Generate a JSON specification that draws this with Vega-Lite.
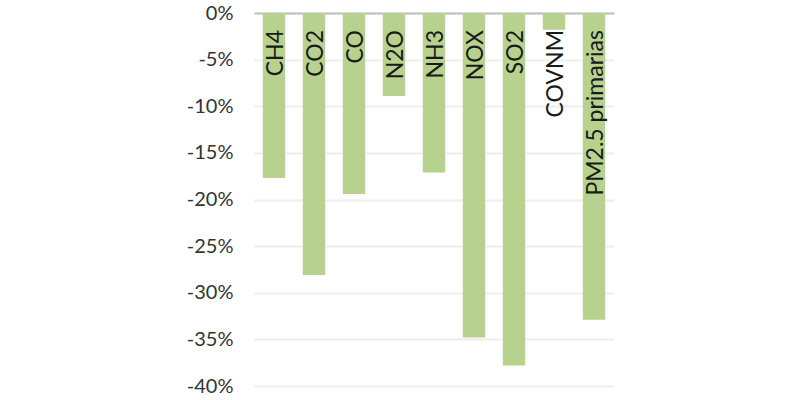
{
  "$schema": "https://vega.github.io/schema/vega-lite/v6.json",
  "autosize": "none",
  "width": 360,
  "height": 373,
  "padding": {"left": 254, "top": 13, "right": 186, "bottom": 14},
  "background": "white",
  "config": {"view": {"stroke": null}, "font": "Lato"},
  "data": {"values": [
    {"gas": "CH4", "v": -0.177},
    {"gas": "CO2", "v": -0.281},
    {"gas": "CO", "v": -0.194},
    {"gas": "N2O", "v": -0.089},
    {"gas": "NH3", "v": -0.171},
    {"gas": "NOX", "v": -0.348},
    {"gas": "SO2", "v": -0.378},
    {"gas": "COVNM", "v": -0.018},
    {"gas": "PM2.5 primarias", "v": -0.329}
  ]},
  "encoding": {
    "x": {"field": "gas", "type": "nominal", "sort": null,
      "scale": {"paddingInner": 0.44, "paddingOuter": 0.22},
      "axis": {"orient": "top", "title": null, "labels": false, "ticks": false, "domainColor": "#bfbfbf", "domainWidth": 2}}
  },
  "layer": [
    {
      "mark": {"type": "bar", "color": "#b7d28e"},
      "encoding": {
        "y": {"field": "v", "type": "quantitative",
          "scale": {"domain": [-0.4, 0], "nice": false},
          "axis": {"title": null, "values": [0, -0.05, -0.1, -0.15, -0.2, -0.25, -0.3, -0.35, -0.4],
            "labelExpr": "datum.value == 0 ? '0%' : '-' + round(-datum.value*100) + '%'",
            "labelFontSize": 20, "labelColor": "#333333", "labelPadding": 21,
            "ticks": false, "domain": false, "gridColor": "#eeeeee", "gridWidth": 2}}
      }
    },
    {
      "mark": {"type": "text", "angle": 270, "align": "right", "baseline": "middle", "dx": -17, "dy": 2, "fontSize": 23, "color": "#1a1a1a"},
      "encoding": {
        "y": {"datum": 0, "type": "quantitative"},
        "text": {"field": "gas"}
      }
    }
  ]
}
